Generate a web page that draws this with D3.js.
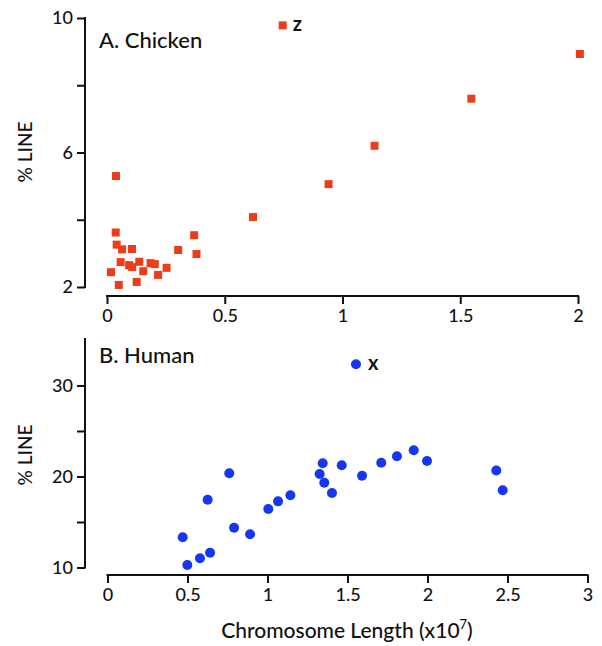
<!DOCTYPE html>
<html><head><meta charset="utf-8">
<script src="https://cdn.jsdelivr.net/npm/d3@7"></script>
<style>body{margin:0;background:#fff}text{font-family:Lato,"Open Sans",sans-serif;fill:#111}</style>
</head><body><svg id="c" width="602" height="646"></svg>
<script>
// Panel A: chicken chromosome length (x10^7) and % LINE
const chickenX = [0.037,0.041,0.064,0.106,0.370,0.302,0.380,0.058,0.094,0.107,0.137,0.154,0.185,0.203,0.217,0.253,0.017,0.050,0.126,0.038,0.62,0.941,1.136,1.547,2.008];
const chickenY = [3.62,3.26,3.12,3.13,3.54,3.10,2.98,2.74,2.65,2.59,2.75,2.47,2.71,2.68,2.36,2.57,2.44,2.06,2.15,5.30,4.08,5.06,6.20,7.60,8.93];
const chickenZ = [0.746, 9.78];
// Panel B: human
const humanX = [0.470,0.499,0.578,0.641,0.626,0.761,0.791,0.891,1.005,1.066,1.143,1.326,1.345,1.355,1.403,1.464,1.591,1.711,1.809,1.914,1.997,2.43,2.47];
const humanY = [13.32,10.27,11.01,11.63,17.45,20.35,14.37,13.65,16.43,17.27,17.93,20.27,21.45,19.32,18.19,21.23,20.09,21.52,22.22,22.88,21.70,20.65,18.49];
const humanX_chr = [1.553, 32.33];
// ticks
const aXTicks = [0,0.5,1,1.5,2];
const aXLabels = ["0","0.5","1","1.5","2"];
const aYTicks = [2,4,6,8,10];
const aYLabels = ["2","","6","","10"];
const bXTicks = [0,0.5,1,1.5,2,2.5,3];
const bXLabels = ["0","0.5","1","1.5","2","2.5","3"];
const bYTicks = [10,15,20,25,30];
const bYLabels = ["10","","20","","30"];

const svg = d3.select("#c");
const AX = 85;

function panel(o){
  const g = svg.append("g");
  const xa = d3.axisBottom(o.x).tickValues(o.xt).tickFormat((d,i)=>o.xl[i]).tickSize(8).tickSizeOuter(0).tickPadding(5);
  const gx = g.append("g").attr("transform",`translate(0,${o.xAxisY})`).call(xa);
  const ya = d3.axisLeft(o.y).tickValues(o.yt).tickFormat((d,i)=>o.yl[i]).tickSize(8).tickSizeOuter(0).tickPadding(4);
  const gy = g.append("g").attr("transform",`translate(${AX},0)`).call(ya);
  [gx,gy].forEach(s=>{
    s.selectAll("path,line").attr("stroke","#111").attr("stroke-width",2);
    s.selectAll("text").attr("font-size",18).attr("fill","#111").style("font-family","Lato,sans-serif").style("font-weight",500);
  });
  gy.select("path.domain").remove();
  gy.append("line").attr("x1",0).attr("x2",0).attr("y1",o.y(o.y.domain()[0])+1).attr("y2",o.y(o.yTop)-1).attr("stroke","#111").attr("stroke-width",2);
  gx.select("path.domain").remove();
  gx.append("line").attr("x1",o.x(o.x.domain()[0])-1).attr("x2",o.x(o.x.domain()[1])+1).attr("y1",0).attr("y2",0).attr("stroke","#111").attr("stroke-width",2);
  g.append("text").attr("x",99).attr("y",o.titleY).attr("font-size",22).style("font-weight",500).text(o.title);
  g.append("text").attr("transform",`translate(32,${o.labelY}) rotate(-90)`).attr("text-anchor","middle").attr("font-size",19).style("font-weight",500).text("% LINE");
  return g;
}

// Panel A
const xA = d3.scaleLinear().domain([0,2]).range([107,578]);
const yA = d3.scaleLinear().domain([2,10]).range([287,18]);
const gA = panel({x:xA,y:yA,xt:aXTicks,xl:aXLabels,yt:aYTicks,yl:aYLabels,xAxisY:296,title:"A. Chicken",titleY:48,labelY:152,yTop:10});
const ch = chickenX.map((v,i)=>[v,chickenY[i]]);
const sq = 8;
gA.selectAll("rect.pt").data(ch.concat([chickenZ])).join("rect")
  .attr("x",d=>xA(d[0])-sq/2).attr("y",d=>yA(d[1])-sq/2).attr("width",sq).attr("height",sq).attr("fill","#ec3d1a");
gA.append("text").attr("x",xA(chickenZ[0])+10).attr("y",yA(chickenZ[1])+6).attr("font-size",20).attr("font-weight","bold").text("z");

// Panel B
const xB = d3.scaleLinear().domain([0,3]).range([107.5,587.5]);
const yB = d3.scaleLinear().domain([10,30]).range([567.5,385.5]);
const gB = panel({x:xB,y:yB,xt:bXTicks,xl:bXLabels,yt:bYTicks,yl:bYLabels,xAxisY:575,title:"B. Human",titleY:363,labelY:455,yTop:35.1});
const hu = humanX.map((v,i)=>[v,humanY[i]]);
gB.selectAll("circle.pt").data(hu.concat([humanX_chr])).join("circle")
  .attr("cx",d=>xB(d[0])).attr("cy",d=>yB(d[1])).attr("r",5).attr("fill","#1637f2");
gB.append("text").attr("x",xB(humanX_chr[0])+12).attr("y",yB(humanX_chr[1])+6).attr("font-size",20).attr("font-weight","bold").text("x");

const xl = svg.append("text").attr("x",347).attr("y",638).attr("text-anchor","middle").attr("font-size",21).style("font-weight",500);
xl.append("tspan").text("Chromosome Length (x10");
xl.append("tspan").attr("font-size",13).attr("dy",-9).text("7");
xl.append("tspan").attr("dy",9).text(")");
</script></body></html>
